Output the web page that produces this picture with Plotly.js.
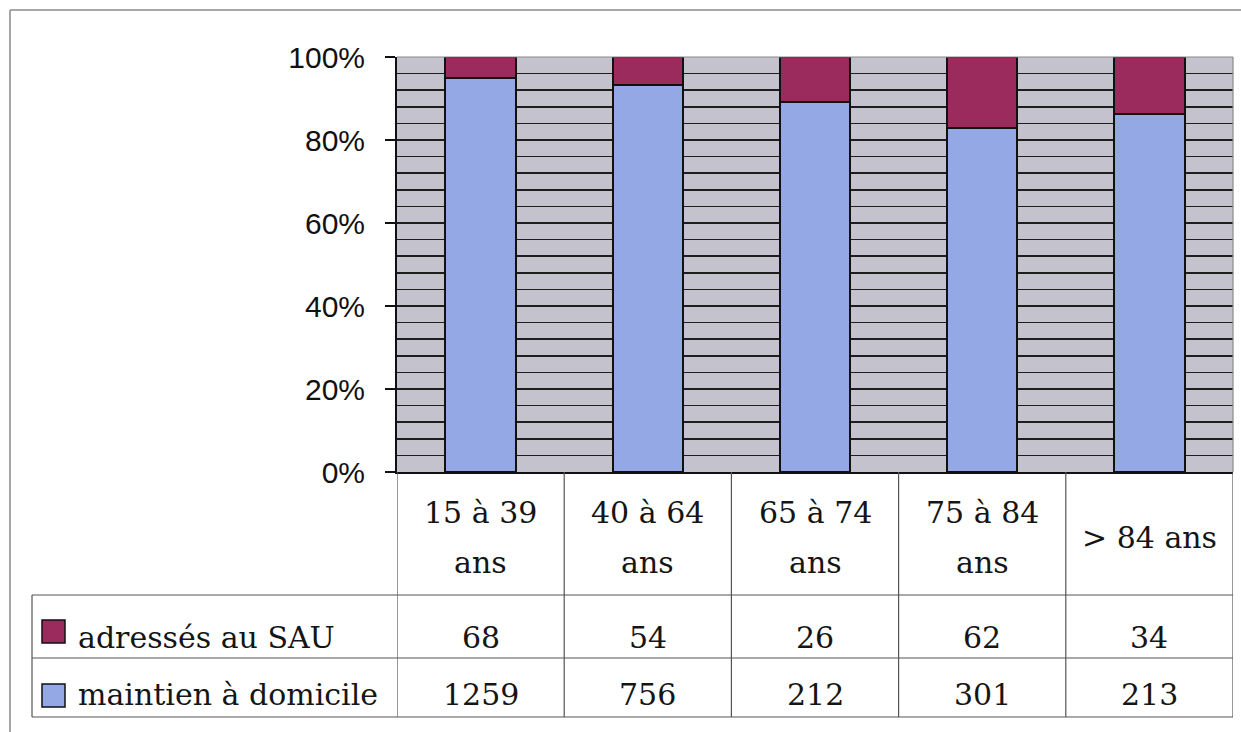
<!DOCTYPE html>
<html>
<head>
<meta charset="utf-8">
<script src="https://cdn.plot.ly/plotly-3.0.1.min.js"></script>
<style>
  html, body { margin: 0; padding: 0; background: #ffffff; }
  #chart { width: 1241px; height: 732px; }
</style>
</head>
<body>
<div id="chart"></div>
<script>
// ---- data ----
const categories = ['15 à 39 ans', '40 à 64 ans', '65 à 74 ans', '75 à 84 ans', '> 84 ans'];
const headerLine1 = ['15 à 39', '40 à 64', '65 à 74', '75 à 84', '> 84 ans'];
const headerLine2 = ['ans', 'ans', 'ans', 'ans', ''];
const seriesNames = ['adressés au SAU', 'maintien à domicile'];
const adressesSAU = [68, 54, 26, 62, 34];
const maintienDomicile = [1259, 756, 212, 301, 213];
const yTickVals = [0, 20, 40, 60, 80, 100];

// ---- styling ----
const MAROON = '#9a2b5c';
const BLUE = '#93a8e4';
const PLOT_BG = '#c4c2cc';
const W = 1241, H = 732;
const L = 397, R = 1233, T = 57, B = 472;
const px = X => (X - L) / (R - L);
const py = Y => (B - Y) / (B - T);
const SERIF = 'DejaVu Serif, Liberation Serif, serif';
const TFONT = { family: SERIF, size: 30, color: '#151515' };
const TABLE_LINE = { color: '#555555', width: 1.2 };

const traces = [
  {
    type: 'bar', x: categories, y: maintienDomicile, name: seriesNames[1],
    width: 0.42, marker: { color: BLUE, line: { color: '#111111', width: 2 } },
    hoverinfo: 'skip'
  },
  {
    type: 'bar', x: categories, y: adressesSAU, name: seriesNames[0],
    width: 0.42, marker: { color: MAROON, line: { color: '#111111', width: 2 } },
    hoverinfo: 'skip'
  }
];

const shapes = [];
const annotations = [];

// outer frame
shapes.push({ type: 'line', xref: 'paper', yref: 'paper', x0: px(10), x1: px(10), y0: py(10), y1: py(732), line: { color: '#8a8a8a', width: 1.5 } });
shapes.push({ type: 'line', xref: 'paper', yref: 'paper', x0: px(10), x1: px(1241), y0: py(10), y1: py(10), line: { color: '#8a8a8a', width: 1.5 } });

// plot border (top/right)
shapes.push({ type: 'line', xref: 'paper', yref: 'paper', x0: 0, x1: 1, y0: 1, y1: 1, line: { color: '#8a8a8a', width: 1.2 } });
shapes.push({ type: 'line', xref: 'paper', yref: 'paper', x0: 1, x1: 1, y0: 0, y1: 1, line: { color: '#8a8a8a', width: 1.2 } });

// table horizontal lines
[595, 658, 717].forEach(Y => {
  shapes.push({ type: 'line', xref: 'paper', yref: 'paper', x0: px(32), x1: 1, y0: py(Y), y1: py(Y), line: TABLE_LINE });
});
// table left vertical line (legend column)
shapes.push({ type: 'line', xref: 'paper', yref: 'paper', x0: px(32), x1: px(32), y0: py(595), y1: py(717), line: TABLE_LINE });
// column boundaries
for (let i = 0; i <= categories.length; i++) {
  shapes.push({ type: 'line', xref: 'x', yref: 'paper', x0: i - 0.5, x1: i - 0.5, y0: 0, y1: py(717), line: TABLE_LINE });
}

// legend keys in table
const rowKeyY = [[620, 643], [684, 707]];
const rowColors = [MAROON, BLUE];
rowKeyY.forEach((yy, r) => {
  shapes.push({ type: 'rect', xref: 'paper', yref: 'paper', x0: px(42), x1: px(65), y0: py(yy[0]), y1: py(yy[1]),
    fillcolor: rowColors[r], line: { color: '#111111', width: 1.5 } });
});

// row labels
const rowTextY = [637, 694];
seriesNames.forEach((name, r) => {
  annotations.push({ xref: 'paper', yref: 'paper', x: px(76), y: py(rowTextY[r]), xanchor: 'left', yanchor: 'middle',
    text: name, showarrow: false, font: TFONT });
});

// header labels
categories.forEach((c, i) => {
  if (headerLine2[i]) {
    annotations.push({ xref: 'x', yref: 'paper', x: i, y: py(512), xanchor: 'center', yanchor: 'middle', text: headerLine1[i], showarrow: false, font: TFONT });
    annotations.push({ xref: 'x', yref: 'paper', x: i, y: py(562), xanchor: 'center', yanchor: 'middle', text: headerLine2[i], showarrow: false, font: TFONT });
  } else {
    annotations.push({ xref: 'x', yref: 'paper', x: i, y: py(537), xanchor: 'center', yanchor: 'middle', text: headerLine1[i], showarrow: false, font: TFONT });
  }
});

// values
[adressesSAU, maintienDomicile].forEach((arr, r) => {
  arr.forEach((v, i) => {
    annotations.push({ xref: 'x', yref: 'paper', x: i, y: py(rowTextY[r]), xanchor: 'center', yanchor: 'middle', text: String(v), showarrow: false, font: TFONT });
  });
});

const layout = {
  width: W, height: H,
  margin: { l: L, r: W - R, t: T, b: H - B, pad: 0 },
  paper_bgcolor: '#ffffff',
  plot_bgcolor: PLOT_BG,
  barmode: 'stack',
  barnorm: 'percent',
  showlegend: false,
  xaxis: {
    type: 'category', range: [-0.5, 4.5], showticklabels: false, ticks: '',
    showline: true, linecolor: '#111111', linewidth: 2, showgrid: false, zeroline: false, fixedrange: true
  },
  yaxis: {
    range: [0, 100], tickmode: 'array', tickvals: yTickVals, ticktext: yTickVals.map(v => v + '%'),
    ticks: 'outside', ticklen: 10, tickwidth: 1.5, tickcolor: '#111111', ticklabelstandoff: 14,
    showline: true, linecolor: '#111111', linewidth: 2,
    showgrid: true, gridcolor: '#1e1e1e', gridwidth: 1.5, zeroline: false,
    minor: { tickmode: 'linear', tick0: 0, dtick: 4, showgrid: true, gridcolor: '#1e1e1e', gridwidth: 1.5, ticks: '' },
    tickfont: { family: 'Liberation Sans, Arial, sans-serif', size: 30, color: '#111111' },
    fixedrange: true
  },
  shapes: shapes,
  annotations: annotations
};

Plotly.newPlot('chart', traces, layout, { displayModeBar: false, staticPlot: true });
</script>
</body>
</html>
